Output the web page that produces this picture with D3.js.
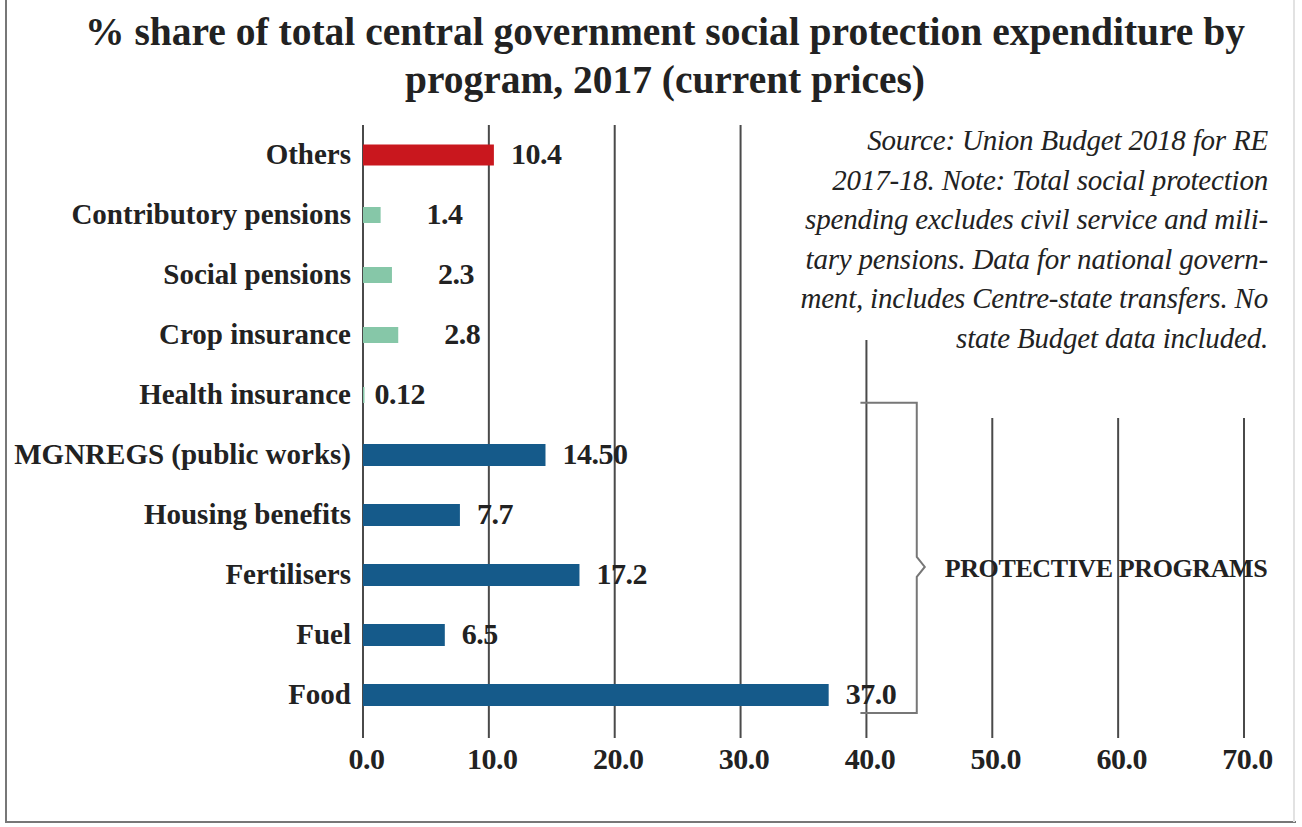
<!DOCTYPE html>
<html>
<head>
<meta charset="utf-8">
<script src="https://cdn.jsdelivr.net/npm/d3@7"></script>
<style>
body { margin: 0; background: #fff; }
text { font-family: "Liberation Serif", "DejaVu Serif", serif; fill: #222; }
</style>
</head>
<body>
<div class="content"></div>
<script>
var width = 1302;
var height = 827;

var programs = ["Others", "Contributory pensions", "Social pensions", "Crop insurance", "Health insurance",
  "MGNREGS (public works)", "Housing benefits", "Fertilisers", "Fuel", "Food"];
var shares = [10.4, 1.4, 2.3, 2.8, 0.12, 14.50, 7.7, 17.2, 6.5, 37.0];
var shareLabels = ["10.4", "1.4", "2.3", "2.8", "0.12", "14.50", "7.7", "17.2", "6.5", "37.0"];
var groups = ["other", "ins", "ins", "ins", "ins", "prot", "prot", "prot", "prot", "prot"];
var xTicks = [0, 10, 20, 30, 40, 50, 60, 70];
var titleLines = ["% share of total central government social protection expenditure by",
  "program, 2017 (current prices)"];
var noteLines = ["Source: Union Budget 2018 for RE",
  "2017-18. Note: Total social protection",
  "spending excludes civil service and mili-",
  "tary pensions. Data for national govern-",
  "ment, includes Centre-state transfers. No",
  "state Budget data included."];
var braceLabel = "PROTECTIVE PROGRAMS";

var colour = {other: "#c9171e", ins: "#86c7a8", prot: "#155a8a"};
var barH = {other: 21, ins: 16, prot: 22};

var svg = d3.select(".content").append("svg").attr("width", width).attr("height", height);

// frame
svg.append("path").attr("d", "M6,0L6,822L1296,822").attr("stroke", "#777").attr("stroke-width", 2).attr("fill", "none");
svg.append("path").attr("d", "M1294,0L1294,822").attr("stroke", "#e2e2e2").attr("stroke-width", 2).attr("fill", "none");

var x = d3.scaleLinear().domain([0, 70]).range([363, 1244]);
var y = d3.scalePoint().domain(programs).range([155, 695]);
var step = y.step();

// title
svg.append("g").selectAll("text").data(titleLines).enter().append("text")
  .attr("x", 665).attr("y", function(d, i){ return 45 + i * 48; })
  .attr("text-anchor", "middle").attr("font-weight", "bold").attr("font-size", 39)
  .attr("textLength", function(d, i){ return i == 0 ? 1160 : 520; })
  .attr("lengthAdjust", "spacingAndGlyphs")
  .text(function(d){ return d; });

// gridlines
var gridTop = function(t){
  if (t <= 30) return 125;
  if (t == 40) return 340;
  return 418;
};
svg.append("g").selectAll("line").data(xTicks).enter().append("line")
  .attr("x1", function(d){ return x(d); }).attr("x2", function(d){ return x(d); })
  .attr("y1", function(d){ return gridTop(d); }).attr("y2", 738)
  .attr("stroke", "#4a4a4a").attr("stroke-width", 2);

// note
svg.append("g").selectAll("text").data(noteLines).enter().append("text")
  .attr("x", 1268).attr("y", function(d, i){ return 150 + i * 39.5; })
  .attr("text-anchor", "end").attr("font-style", "italic").attr("font-size", 29)
  .attr("letter-spacing", -0.2)
  .text(function(d){ return d; });

// bars
var rows = programs.map(function(p, i){ return {name: p, v: shares[i], lab: shareLabels[i], g: groups[i]}; });
svg.append("g").selectAll("rect").data(rows).enter().append("rect")
  .attr("x", x(0)).attr("y", function(d){ return y(d.name) - barH[d.g] / 2; })
  .attr("width", function(d){ return Math.max(x(d.v) - x(0), 1.5); })
  .attr("height", function(d){ return barH[d.g]; })
  .attr("fill", function(d){ return colour[d.g]; });

// value labels
var labelGap = function(d){
  if (d.g != "ins") return 17;
  return d.v < 1 ? 10 : 46;
};
svg.append("g").selectAll("text").data(rows).enter().append("text")
  .attr("x", function(d){ return x(d.v) + labelGap(d); })
  .attr("y", function(d){ return y(d.name) + 9; })
  .attr("font-weight", "bold").attr("font-size", 30).attr("letter-spacing", -0.5)
  .text(function(d){ return d.lab; });

// category labels
svg.append("g").selectAll("text").data(rows).enter().append("text")
  .attr("x", 351).attr("y", function(d){ return y(d.name) + 9; })
  .attr("text-anchor", "end").attr("font-weight", "bold").attr("font-size", 29)
  .text(function(d){ return d.name; });

// brace around protective programs
var bTop = y("Health insurance") + step * 0.13;
var bBot = y("Food") + step * 0.3;
var bMid = (bTop + bBot) / 2 + 9;
var bx0 = x(40) - 6, bx1 = x(44);
svg.append("path")
  .attr("d", "M" + bx0 + "," + bTop + "L" + bx1 + "," + bTop + "L" + bx1 + "," + (bMid - 10) +
    "L" + (bx1 + 8) + "," + bMid + "L" + bx1 + "," + (bMid + 10) + "L" + bx1 + "," + bBot + "L" + bx0 + "," + bBot)
  .attr("stroke", "#777").attr("stroke-width", 2).attr("fill", "none");
svg.append("text").attr("x", bx1 + 28).attr("y", bMid + 10)
  .attr("font-weight", "bold").attr("font-size", 26).attr("letter-spacing", -0.4)
  .text(braceLabel);

// axis labels
var axis = svg.append("g").attr("transform", "translate(0,745)")
  .call(d3.axisBottom(x).tickValues(xTicks).tickFormat(d3.format(".1f")).tickSize(0).tickPadding(3));
axis.select(".domain").remove();
axis.selectAll("text").attr("font-size", 30).attr("font-weight", "bold").attr("fill", "#222")
  .attr("dx", 3).attr("letter-spacing", -0.5)
  .style("font-family", "'Liberation Serif', serif");
</script>
</body>
</html>
